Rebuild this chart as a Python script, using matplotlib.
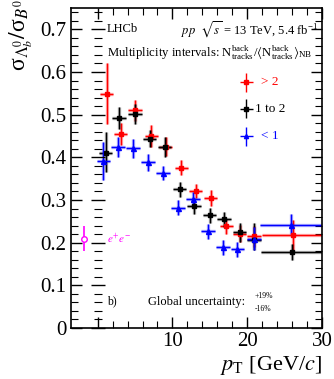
import matplotlib
matplotlib.use("Agg")
import matplotlib.pyplot as plt
import numpy as np

plt.rcParams['font.family'] = ['Liberation Serif', 'DejaVu Serif']
plt.rcParams['mathtext.fontset'] = 'stix'

# Lambda_b / B0 ratio vs pT, three multiplicity intervals
pt_low = [0.75, 2.75, 4.75, 6.75, 8.75, 10.75, 12.75, 14.75, 16.75, 18.7, 20.9, 25.8]
ratio_low = [0.392, 0.424, 0.4215, 0.389, 0.363, 0.282, 0.303, 0.2265, 0.189, 0.184, 0.209, 0.242]
up_low = [0.043, 0.023, 0.022, 0.019, 0.017, 0.017, 0.015, 0.017, 0.018, 0.017, 0.027, 0.026]
dn_low = [0.045, 0.024, 0.022, 0.020, 0.017, 0.018, 0.018, 0.017, 0.018, 0.018, 0.027, 0.021]

pt_mid = [1.07, 2.88, 4.97, 6.97, 8.97, 10.97, 12.9, 14.97, 16.9, 18.97, 20.9, 26.0]
ratio_mid = [0.411, 0.493, 0.502, 0.4435, 0.424, 0.325, 0.287, 0.264, 0.255, 0.225, 0.207, 0.178]
up_mid = [0.048, 0.026, 0.024, 0.021, 0.023, 0.017, 0.018, 0.018, 0.017, 0.021, 0.038, 0.020]
dn_mid = [0.046, 0.026, 0.023, 0.020, 0.024, 0.017, 0.019, 0.018, 0.018, 0.024, 0.025, 0.018]

pt_high = [1.2, 3.07, 4.97, 7.2, 9.1, 11.2, 13.1, 15.1, 17.2, 19.0, 20.9, 26.1]
ratio_high = [0.549, 0.455, 0.51, 0.451, 0.425, 0.376, 0.321, 0.305, 0.238, 0.221, 0.215, 0.217]
up_high = [0.071, 0.025, 0.025, 0.024, 0.023, 0.018, 0.017, 0.018, 0.017, 0.020, 0.025, 0.035]
dn_high = [0.072, 0.027, 0.025, 0.026, 0.023, 0.018, 0.017, 0.018, 0.017, 0.020, 0.025, 0.035]

# bin half widths (last bin runs past the frame)
xlo = [0.9] * 11 + [4.1]
xhi = [0.9] * 11 + [14.0]

# e+e- reference
ee_x, ee_y, ee_up, ee_dn = -1.83, 0.209, 0.029, 0.029

fig = plt.figure(figsize=(3.34, 3.79), dpi=100)
rect = [71 / 334, 51 / 379, 251 / 334, 320 / 379]
ax = fig.add_axes(rect)
ax.set_xlim(-3.56, 30)
ax.set_ylim(0, 0.75)

series = [
    (pt_high, ratio_high, up_high, dn_high, 'red', 's', 2.5),
    (pt_mid, ratio_mid, up_mid, dn_mid, 'black', 's', 3.2),
    (pt_low, ratio_low, up_low, dn_low, 'blue', '^', 3.6),
]
for x, y, up, dn, col, mk, ms in series:
    # pale thick band behind, thin bar on top
    ax.errorbar(x, y, yerr=[dn, up], xerr=[xlo, xhi], fmt='none',
                ecolor=col, elinewidth=2.4, alpha=0.3, capsize=0)
    ax.errorbar(x, y, yerr=[dn, up], xerr=[xlo, xhi], fmt=mk, color=col,
                ms=ms, elinewidth=1.0, capsize=0)

ax.errorbar([ee_x], [ee_y], yerr=[[ee_dn], [ee_up]], fmt='o', color='magenta',
            mfc='white', ms=4, elinewidth=1.2, capsize=0)
ax.text(1.2, 0.21, r'$e^{+}e^{-}$', color='magenta', fontsize=8, va='center')

# legend
leg_y = [0.576, 0.514, 0.449]
leg_lab = ['> 2', '1 to 2', '< 1']
leg_col = ['red', 'black', 'blue']
leg_mk = ['s', 's', '^']
leg_tx = [21.9, 21.0, 21.9]
for yy, lab, col, mk, tx in zip(leg_y, leg_lab, leg_col, leg_mk, leg_tx):
    ax.errorbar([19.9], [yy], xerr=0.9, yerr=0.022, fmt=mk, color=col,
                ms=3, elinewidth=1.0, capsize=0)
    ax.text(tx, yy, lab, color=col, fontsize=9.5, va='center')

ax.text(1.2, 0.70, 'LHCb', fontsize=9, va='center')
ax.text(29.4, 0.70, r'$pp$  $\sqrt{s}$ = 13 TeV, 5.4 fb$^{\mathregular{-1}}$',
        fontsize=9, va='center', ha='right')
ax.text(1.2, 0.646, r'Multiplicity intervals: N$^{\mathregular{back}}_{\mathregular{tracks}}$'
        r'/$\langle$N$^{\mathregular{back}}_{\mathregular{tracks}}\rangle_{\mathregular{NB}}$',
        fontsize=9.2, va='center')
ax.text(1.2, 0.062, 'b)', fontsize=8.5, va='center')
ax.text(6.7, 0.061, 'Global uncertainty:', fontsize=9, va='center')
ax.text(21.0, 0.076, '+19%', fontsize=5.5, va='center')
ax.text(21.0, 0.045, '-16%', fontsize=5.5, va='center')

# ticks
ax.set_yticks(np.arange(0, 0.71, 0.1))
ax.set_yticklabels(['0', '0.1', '0.2', '0.3', '0.4', '0.5', '0.6', '0.7'])
ax.set_yticks(np.arange(0, 0.75, 0.02), minor=True)
ax.set_xticks([0, 10, 20, 30])
ax.set_xticklabels(['', '10', '20', '30'])
ax.set_xticks(np.arange(2, 30, 2), minor=True)
ax.tick_params(which='both', direction='in', top=True, right=True, labelsize=15)
ax.tick_params(which='major', length=8, width=1)
ax.tick_params(which='minor', length=5, width=0.8)
ax.tick_params(axis='x', pad=3)
for sp in ax.spines.values():
    sp.set_linewidth(1.2)

# inner y axis at pT = 0
ax2 = fig.add_axes(rect, frameon=False, sharex=ax, sharey=ax)
ax2.patch.set_visible(False)
for name in ['top', 'right', 'bottom']:
    ax2.spines[name].set_visible(False)
ax2.spines['left'].set_visible(True)
ax2.spines['left'].set_position(('data', 0))
ax2.spines['left'].set_linewidth(1.0)
ax2.tick_params(which='both', direction='inout', left=True, right=False,
                bottom=False, top=False, labelleft=False, labelbottom=False)
ax2.tick_params(which='major', length=10, width=1)
ax2.tick_params(which='minor', length=6, width=0.8)

fig.text(0.062, 1.003, r'$\mathregular{σ}_{\Lambda_b^0}/\mathregular{σ}_{B^0}$',
         rotation=90, ha='center', va='top', fontsize=17)
fig.text(rect[0] + rect[2], 0.036, r'$p_{\mathregular{T}}$ [GeV/$c$]',
         ha='right', va='center', fontsize=16)

fig.savefig('out.png', dpi=100)
